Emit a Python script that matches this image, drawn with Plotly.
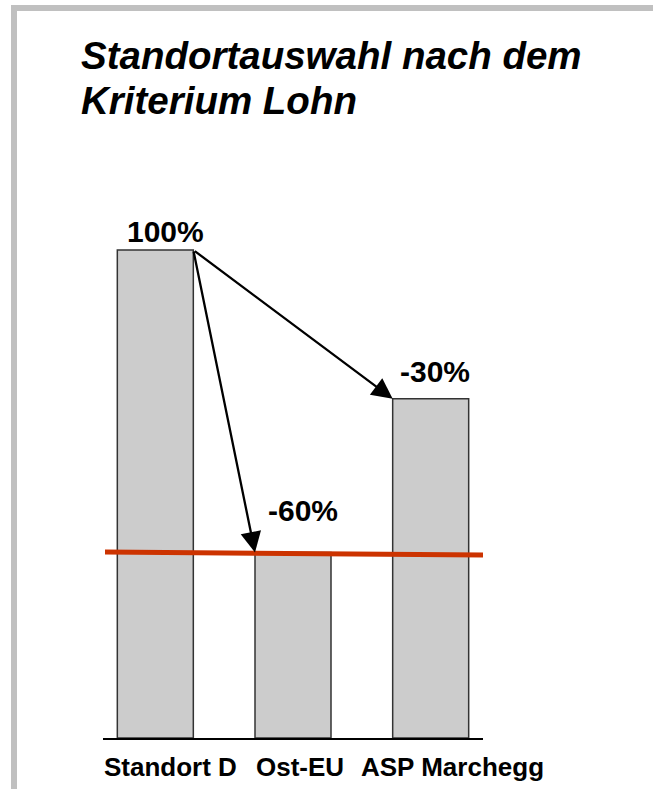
import plotly.graph_objects as go

# ---- data ----
categories = ["Standort D", "Ost-EU", "ASP Marchegg"]
values = [100, 38, 69.5]
value_labels = ["100%", "-60%", "-30%"]
threshold_line = [38.1, 37.5]   # red reference line (left end, right end)
title_lines = ["Standortauswahl nach dem", "Kriterium Lohn"]

# ---- style ----
W, H = 653, 789
M_L, M_R, M_T, M_B = 103, 170, 150, 51
BAR_W = 0.552
Y_MAX = 120.5
FONT = "Liberation Sans, Arial, sans-serif"

plot_w = W - M_L - M_R
plot_h = H - M_T - M_B


def px_to_paper_x(px):
    return (px - M_L) / plot_w


def px_to_paper_y(py):
    return (H - M_B - py) / plot_h


fig = go.Figure()
fig.add_trace(go.Bar(
    x=list(range(len(categories))),
    y=values,
    width=BAR_W,
    marker=dict(color="#CCCCCC", line=dict(color="#333333", width=1.5)),
    hoverinfo="skip",
))

# value labels
label_shift = [(10, 0), (10, 24), (4, 9)]
for i, (v, t) in enumerate(zip(values, value_labels)):
    fig.add_annotation(
        x=i, y=v, text=f"<b>{t}</b>", showarrow=False,
        xref="x", yref="y", yanchor="bottom",
        xshift=label_shift[i][0], yshift=label_shift[i][1],
        font=dict(family=FONT, size=30, color="black"),
    )

# category labels (set as one text row under the bars)
cat_shift = [15, 7, 22]
for i, c in enumerate(categories):
    fig.add_annotation(
        x=i, y=0, text=f"<b>{c}</b>", showarrow=False,
        xref="x", yref="y", yanchor="top", xanchor="center",
        xshift=cat_shift[i], yshift=-12,
        font=dict(family=FONT, size=26, color="black"),
    )

# arrows from top-right corner of first bar to top-left corner of other bars
for i in (1, 2):
    fig.add_annotation(
        x=i - BAR_W / 2, y=values[i],
        ax=0 + BAR_W / 2, ay=values[0],
        xref="x", yref="y", axref="x", ayref="y",
        text="", showarrow=True,
        arrowhead=2, arrowsize=1.8, arrowwidth=2.3, arrowcolor="black",
    )

# red reference line
fig.add_shape(
    type="line", xref="paper", yref="y",
    x0=px_to_paper_x(105), x1=1.0,
    y0=threshold_line[0], y1=threshold_line[1],
    line=dict(color="#CC3300", width=5),
    layer="above",
)

# gray frame (top and left bands)
band = "#C0C0C0"
fig.add_shape(type="rect", xref="paper", yref="paper",
              x0=px_to_paper_x(11), x1=px_to_paper_x(W + 5),
              y0=px_to_paper_y(11), y1=px_to_paper_y(5),
              fillcolor=band, line=dict(width=0), layer="below")
fig.add_shape(type="rect", xref="paper", yref="paper",
              x0=px_to_paper_x(11), x1=px_to_paper_x(17),
              y0=px_to_paper_y(H + 5), y1=px_to_paper_y(5),
              fillcolor=band, line=dict(width=0), layer="below")

# title (two lines, tighter leading than plotly's default)
title_y = [55, 100]
for line, ty in zip(title_lines, title_y):
    fig.add_annotation(
        x=px_to_paper_x(79), y=px_to_paper_y(ty),
        xref="paper", yref="paper", xanchor="left", yanchor="middle",
        text=f"<b><i>{line}</i></b>", showarrow=False,
        font=dict(family=FONT, size=38.5, color="black"),
    )

fig.update_layout(
    width=W, height=H,
    margin=dict(l=M_L, r=M_R, t=M_T, b=M_B),
    paper_bgcolor="white", plot_bgcolor="white",
    showlegend=False,
    xaxis=dict(
        range=[-0.38, 2.38],
        showline=True, linecolor="black", linewidth=2,
        showgrid=False, zeroline=False, ticks="",
        showticklabels=False,
        fixedrange=True,
    ),
    yaxis=dict(
        range=[0, Y_MAX], visible=False, showgrid=False, zeroline=False,
        fixedrange=True,
    ),
)

fig.write_html("out.html", config={"displayModeBar": False},
               post_script="document.body.style.margin='0px';")
